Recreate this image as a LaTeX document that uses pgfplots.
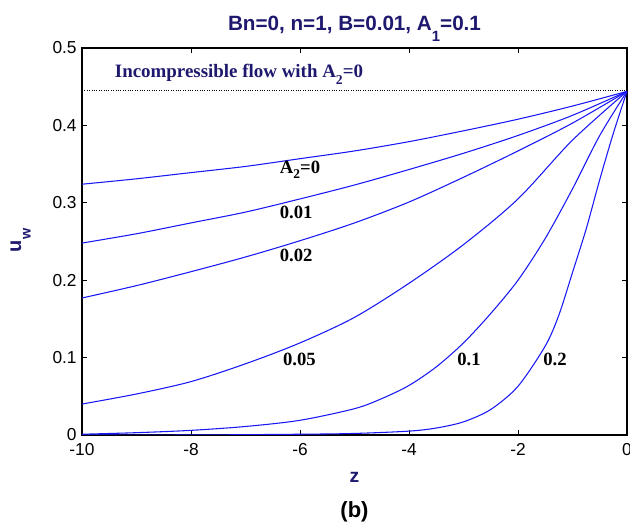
\documentclass[border=0pt]{standalone}
\usepackage{pgfplots}
\pgfplotsset{compat=1.18}
\usepackage{graphicx}
\usepackage{fontspec}
\setmainfont{Liberation Serif}
\setsansfont{Liberation Sans}
\definecolor{navy}{RGB}{30,25,110}
\definecolor{cblue}{RGB}{25,25,245}
\newcommand{\sub}[2][-0.8ex]{\raisebox{#1}{\scalebox{0.72}{#2}}}
\begin{document}
\begin{tikzpicture}
\begin{axis}[
  scale only axis, width=408.75pt, height=290.25pt,
  xmin=-10, xmax=0, ymin=0, ymax=0.5,
  xtick={-10,-8,-6,-4,-2,0}, ytick={0,0.1,0.2,0.3,0.4,0.5},
  xtick pos=both, ytick pos=both,
  tick align=inside, major tick length=4pt,
  axis line style={line width=1pt},
  tick style={black, line width=0.75pt},
  ticklabel style={font=\sffamily\fontsize{13}{15}\selectfont},
  xticklabel style={yshift=-3pt},
  yticklabel style={xshift=-0.5pt},
  /pgf/number format/assume math mode=true,
  yticklabel style={/pgf/number format/fixed},
  clip mode=individual,
]
\addplot[black, densely dotted, line width=0.8pt] coordinates {(-10,0.445) (0,0.445)};
% A2 = 0
\addplot[cblue, line width=0.8pt, smooth] coordinates {(-10,0.324) (-9,0.331) (-8,0.339) (-7,0.347) (-6,0.357) (-5,0.367) (-4,0.379) (-3,0.393) (-2,0.408) (-1,0.425) (0,0.444)};
% A2 = 0.01
\addplot[cblue, line width=0.8pt, smooth] coordinates {(-10,0.248) (-9,0.260) (-8,0.274) (-7,0.288) (-6,0.305) (-5,0.323) (-4,0.343) (-3,0.364) (-2,0.387) (-1,0.413) (0,0.444)};
% A2 = 0.02
\addplot[cblue, line width=0.8pt, smooth] coordinates {(-10,0.177) (-9,0.193) (-8,0.211) (-7,0.230) (-6,0.251) (-5,0.274) (-4,0.301) (-3,0.333) (-2,0.367) (-1,0.403) (0,0.444)};
% A2 = 0.05
\addplot[cblue, line width=0.8pt, smooth] coordinates {(-10,0.040) (-9,0.053) (-8,0.069) (-7,0.092) (-6,0.119) (-5,0.152) (-4,0.196) (-3,0.246) (-2,0.305) (-1,0.381) (0,0.444)};
% A2 = 0.1
\addplot[cblue, line width=0.8pt, smooth] coordinates {(-10,0.001) (-9,0.003) (-8,0.006) (-7,0.011) (-6,0.019) (-5,0.034) (-4.5,0.047) (-4,0.064) (-3.5,0.088) (-3,0.119) (-2.5,0.157) (-2,0.200) (-1.5,0.254) (-1,0.318) (-0.5,0.387) (0,0.444)};
% A2 = 0.2
\addplot[cblue, line width=0.8pt, smooth] coordinates {(-10,0.000) (-8,0.000) (-6,0.001) (-5,0.002) (-4,0.005) (-3.5,0.009) (-3,0.017) (-2.5,0.033) (-2,0.063) (-1.5,0.115) (-1.25,0.155) (-1,0.210) (-0.75,0.266) (-0.5,0.330) (-0.25,0.390) (0,0.444)};

\begin{scope}[every node/.style={font=\rmfamily\bfseries\fontsize{14}{16}\selectfont, text=black}]
\node at (axis cs:-6.0,0.343) {A\sub[-0.6ex]{2}=0};
\node at (axis cs:-6.07,0.288) {0.01};
\node at (axis cs:-6.07,0.232) {0.02};
\node at (axis cs:-6.01,0.097) {0.05};
\node at (axis cs:-2.9,0.097) {0.1};
\node at (axis cs:-1.32,0.097) {0.2};
\end{scope}
\node[anchor=base, font=\rmfamily\bfseries\fontsize{14.2}{16}\selectfont, text=navy] at (axis cs:-7.12,0.462) {Incompressible flow with A\sub{2}=0};

\node[anchor=base, font=\sffamily\bfseries\fontsize{15.5}{18}\selectfont, text=navy] at ([yshift=13.4pt]rel axis cs:0.5,1) {Bn=0, n=1, B=0.01, A\sub[-1ex]{1}=0.1};
\node[font=\sffamily\bfseries\fontsize{14.5}{16}\selectfont, text=navy] at ([yshift=-32pt]rel axis cs:0.5,0) {z};
\node[font=\sffamily\bfseries\fontsize{16.5}{19}\selectfont, text=black] at ([yshift=-57.5pt]rel axis cs:0.5,0) {(b)};
\node[rotate=90, font=\sffamily\bfseries\fontsize{15}{17}\selectfont, text=navy] at ([xshift=-46pt]rel axis cs:0,0.503) {u\sub[-0.9ex]{w}};
\end{axis}
\pgfresetboundingbox
\useasboundingbox ([xshift=-61.5pt,yshift=-68.25pt]current axis.south west) rectangle ([xshift=2.25pt,yshift=36pt]current axis.north east);
\end{tikzpicture}
\end{document}
